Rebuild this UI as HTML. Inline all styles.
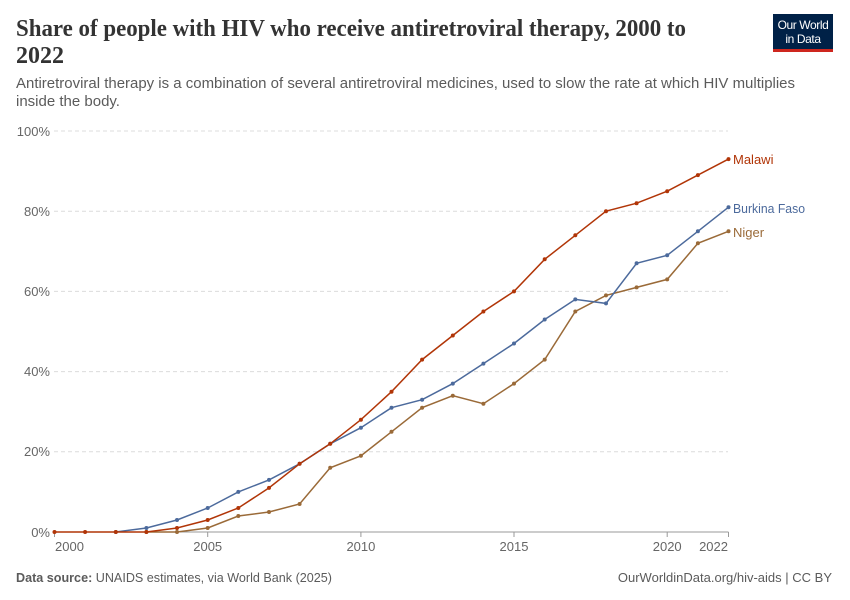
<!DOCTYPE html>
<html><head><meta charset="utf-8"><style>
html,body{margin:0;padding:0;background:#fff;}
svg{display:block;}
text{font-family:"Liberation Sans",sans-serif;}
</style></head><body>
<svg width="850" height="600" viewBox="0 0 850 600" xmlns="http://www.w3.org/2000/svg">
<defs>
<marker id="mr" markerUnits="userSpaceOnUse" markerWidth="6" markerHeight="6" refX="3" refY="3"><circle cx="3" cy="3" r="2" fill="#b13507"/></marker>
<marker id="mb" markerUnits="userSpaceOnUse" markerWidth="6" markerHeight="6" refX="3" refY="3"><circle cx="3" cy="3" r="2" fill="#4c6a9c"/></marker>
<marker id="mn" markerUnits="userSpaceOnUse" markerWidth="6" markerHeight="6" refX="3" refY="3"><circle cx="3" cy="3" r="2" fill="#9a6a38"/></marker>
</defs>
<rect width="850" height="600" fill="#fff"/>
<!-- Title -->
<text x="16" y="36" font-size="24" font-weight="bold" fill="#333" textLength="670" lengthAdjust="spacingAndGlyphs" style="font-family:'Liberation Serif',serif">Share of people with HIV who receive antiretroviral therapy, 2000 to</text>
<text x="16" y="63" font-size="24" font-weight="bold" fill="#333" style="font-family:'Liberation Serif',serif">2022</text>
<!-- Subtitle -->
<text x="16" y="88" font-size="15" fill="#5b5b5b" textLength="779" lengthAdjust="spacingAndGlyphs">Antiretroviral therapy is a combination of several antiretroviral medicines, used to slow the rate at which HIV multiplies</text>
<text x="16" y="106" font-size="15" fill="#5b5b5b">inside the body.</text>
<!-- Logo -->
<rect x="773" y="14" width="60" height="38" fill="#002147"/>
<rect x="773" y="49" width="60" height="3" fill="#ce261e"/>
<text x="803" y="29" font-size="12" fill="#fff" text-anchor="middle" letter-spacing="-0.4">Our World</text>
<text x="803" y="43" font-size="12" fill="#fff" text-anchor="middle" letter-spacing="-0.4">in Data</text>
<!-- Gridlines -->
<g stroke="#dcdcdc" stroke-width="1" stroke-dasharray="4,3">
<line x1="54" y1="131" x2="728" y2="131"/>
<line x1="54" y1="211.2" x2="728" y2="211.2"/>
<line x1="54" y1="291.4" x2="728" y2="291.4"/>
<line x1="54" y1="371.6" x2="728" y2="371.6"/>
<line x1="54" y1="451.8" x2="728" y2="451.8"/>
</g>
<!-- Y labels -->
<g font-size="13" fill="#666" text-anchor="end">
<text x="50" y="136">100%</text>
<text x="50" y="216">80%</text>
<text x="50" y="296">60%</text>
<text x="50" y="376">40%</text>
<text x="50" y="456">20%</text>
<text x="50" y="537">0%</text>
</g>
<!-- X axis -->
<line x1="54" y1="532" x2="728.5" y2="532" stroke="#999" stroke-width="1"/>
<g stroke="#999" stroke-width="1">
<line x1="54.5" y1="532" x2="54.5" y2="537"/>
<line x1="207.7" y1="532" x2="207.7" y2="537"/>
<line x1="360.9" y1="532" x2="360.9" y2="537"/>
<line x1="514" y1="532" x2="514" y2="537"/>
<line x1="667.2" y1="532" x2="667.2" y2="537"/>
<line x1="728.5" y1="532" x2="728.5" y2="537"/>
</g>
<g font-size="13" fill="#666">
<text x="55" y="551">2000</text>
<text x="207.7" y="551" text-anchor="middle">2005</text>
<text x="360.9" y="551" text-anchor="middle">2010</text>
<text x="514" y="551" text-anchor="middle">2015</text>
<text x="667.2" y="551" text-anchor="middle">2020</text>
<text x="728" y="551" text-anchor="end">2022</text>
</g>
<!-- Niger -->
<polyline fill="none" stroke="#9a6a38" stroke-width="1.5" marker-start="url(#mn)" marker-mid="url(#mn)" marker-end="url(#mn)" points="146.4,532 177.0,532 207.7,528 238.3,516 269.0,512 299.6,504 330.2,467.8 360.9,455.8 391.5,431.8 422.1,407.7 452.8,395.7 483.4,403.7 514.0,383.6 544.7,359.6 575.3,311.5 606.0,295.4 636.6,287.4 667.2,279.4 697.9,243.3 728.5,231.3"/>
<!-- Burkina Faso -->
<polyline fill="none" stroke="#4c6a9c" stroke-width="1.5" marker-start="url(#mb)" marker-mid="url(#mb)" marker-end="url(#mb)" points="115.8,532 146.4,528 177.0,520 207.7,508 238.3,491.9 269.0,479.9 299.6,463.8 330.2,443.8 360.9,427.7 391.5,407.7 422.1,399.7 452.8,383.6 483.4,363.6 514.0,343.5 544.7,319.5 575.3,299.4 606.0,303.4 636.6,263.3 667.2,255.3 697.9,231.3 728.5,207.2"/>
<!-- Malawi -->
<polyline fill="none" stroke="#b13507" stroke-width="1.5" marker-start="url(#mr)" marker-mid="url(#mr)" marker-end="url(#mr)" points="54.5,532 85.1,532 115.8,532 146.4,532 177.0,528 207.7,520 238.3,508 269.0,487.9 299.6,463.8 330.2,443.8 360.9,419.7 391.5,391.7 422.1,359.6 452.8,335.5 483.4,311.5 514.0,291.4 544.7,259.3 575.3,235.3 606.0,211.2 636.6,203.2 667.2,191.2 697.9,175.1 728.5,159.1"/>
<!-- Labels -->
<g font-size="13">
<text x="733" y="164" fill="#b13507">Malawi</text>
<text x="733" y="213" fill="#4c6a9c" textLength="72" lengthAdjust="spacingAndGlyphs">Burkina Faso</text>
<text x="733" y="237" fill="#9a6a38">Niger</text>
</g>
<!-- Footer -->
<text x="16" y="582" font-size="13" fill="#5b5b5b" textLength="316" lengthAdjust="spacingAndGlyphs"><tspan font-weight="bold">Data source:</tspan> UNAIDS estimates, via World Bank (2025)</text>
<text x="832" y="582" font-size="13" fill="#5b5b5b" text-anchor="end">OurWorldinData.org/hiv-aids | CC BY</text>
</svg>
</body></html>
